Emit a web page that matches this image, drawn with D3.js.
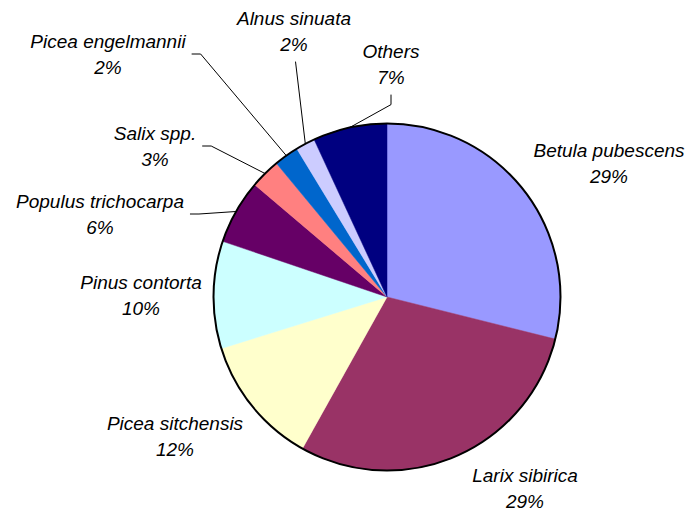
<!DOCTYPE html>
<html>
<head>
<meta charset="utf-8">
<script src="https://cdn.jsdelivr.net/npm/d3@7"></script>
<style>
  body { margin: 0; background: #fff; }
  svg { display: block; }
  .lbl { font-family: "Liberation Sans", Arial, sans-serif; font-style: italic; font-size: 19px; fill: #000; }
</style>
</head>
<body>
<svg id="chart"></svg>
<script>
(function () {

// Species and their share of the total (%), clockwise from 12 o'clock
const species = ["Betula pubescens", "Larix sibirica", "Picea sitchensis", "Pinus contorta",
  "Populus trichocarpa", "Salix spp.", "Picea engelmannii", "Alnus sinuata", "Others"];
const shares = [28.9, 29.2, 12.1, 10.0, 6.0, 2.8, 2.3, 1.8, 6.9];
const colors = ["#9999FF", "#993366", "#FFFFCC", "#CCFFFF", "#660066",
  "#FF8080", "#0066CC", "#CCCCFF", "#000080"];

// Label placement (centre x, first baseline) and leader style, set by hand like the original
const labelPos = [[609, 157], [525, 482], [175, 430], [141, 289], [100, 208],
  [155, 140], [108, 48], [294, 25], [391, 58]];
const leader = [null, null, null, null, "side", "side", "side", "bottom0", "bottom"];

const width = 688, height = 511;
const cx = 387, cy = 297, r = 173.5;
const lineGap = 25.6;

const svg = d3.select("#chart")
    .attr("width", width)
    .attr("height", height);

const pie = d3.pie().sort(null).value(d => d.value);
const arc = d3.arc().innerRadius(0).outerRadius(r);

const data = species.map((s, i) => ({name: s, value: shares[i], color: colors[i]}));
const arcs = pie(data);

const g = svg.append("g").attr("transform", `translate(${cx},${cy})`);

g.selectAll("path.slice")
    .data(arcs)
    .enter().append("path")
    .attr("class", "slice")
    .attr("d", arc)
    .attr("fill", d => d.data.color)
    .attr("stroke", d => d.data.color)
    .attr("stroke-width", 0.5);

// outer rim
g.append("circle")
    .attr("r", r)
    .attr("fill", "none")
    .attr("stroke", "#000")
    .attr("stroke-width", 2);

const fmt = v => Math.round(v) + "%";

// labels
const labels = svg.selectAll("text.lbl")
    .data(arcs)
    .enter().append("text")
    .attr("class", "lbl")
    .attr("text-anchor", "middle")
    .attr("x", (d, i) => labelPos[i][0])
    .attr("y", (d, i) => labelPos[i][1]);

labels.append("tspan")
    .attr("x", (d, i) => labelPos[i][0])
    .text(d => d.data.name);
labels.append("tspan")
    .attr("x", (d, i) => labelPos[i][0])
    .attr("dy", lineGap)
    .text(d => fmt(d.data.value));

// leader lines
labels.each(function (d, i) {
  const type = leader[i];
  if (!type) return;
  const mid = (d.startAngle + d.endAngle) / 2;
  const end = [cx + r * Math.sin(mid), cy - r * Math.cos(mid)];
  const [lx, ly] = labelPos[i];
  let pts;
  if (type === "side") {
    const w = this.querySelector("tspan").getComputedTextLength();
    const sx = lx + w / 2 + 6, sy = ly + 6;
    pts = [[sx, sy], [sx + 9, sy], end];
  } else {
    const sy = ly + lineGap + 11;
    pts = type === "bottom" ? [[lx, sy], [lx, sy + 10], end] : [[lx + 1.5, sy], end];
  }
  svg.insert("path", "text")
      .attr("d", d3.line()(pts))
      .attr("fill", "none")
      .attr("stroke", "#000")
      .attr("stroke-width", 1);
});

})();
</script>
</body>
</html>
